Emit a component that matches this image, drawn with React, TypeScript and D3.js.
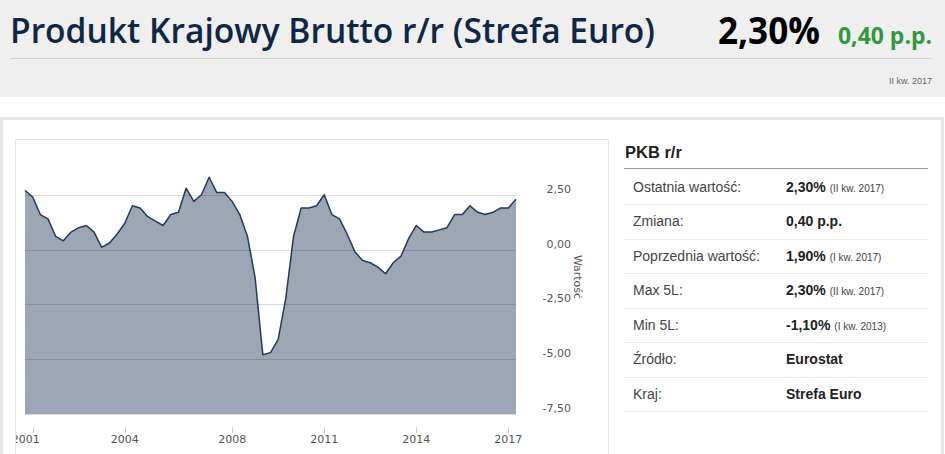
import React from 'react';
import * as d3 from 'd3';

// Quarterly GDP y/y (Euro area), II kw. 2001 .. II kw. 2017
const gdpValues: number[] = [
  2.7, 2.4, 1.6, 1.4, 0.6, 0.4, 0.8, 1.0, 1.1, 0.8,
  0.1, 0.3, 0.7, 1.2, 2.0, 1.9, 1.5, 1.3, 1.1, 1.6,
  1.7, 2.8, 2.2, 2.5, 3.3, 2.6, 2.6, 2.2, 1.6, 0.6,
  -1.3, -4.8, -4.7, -4.1, -2.2, 0.6, 1.9, 1.9, 2.0, 2.5,
  1.6, 1.4, 0.7, -0.1, -0.5, -0.6, -0.8, -1.1, -0.6, -0.3,
  0.5, 1.1, 0.8, 0.8, 0.9, 1.0, 1.6, 1.6, 2.0, 1.7,
  1.6, 1.7, 1.9, 1.9, 2.3,
];

const xTickIndex: number[] = [1, 13, 27, 39, 51, 63];
const xTickLabels: string[] = ['2001', '2004', '2008', '2011', '2014', '2017'];
const yTicks: number[] = [2.5, 0, -2.5, -5, -7.5];
const yDomain: [number, number] = [-7.5, 5];

const titleText = 'Produkt Krajowy Brutto r/r (Strefa Euro)';
const headlineValue = '2,30%';
const headlineChange = '0,40 p.p.';
const headlinePeriod = 'II kw. 2017';
const axisTitle = 'Wartość';

const tableTitle = 'PKB r/r';
const tableLabels: string[] = ['Ostatnia wartość:', 'Zmiana:', 'Poprzednia wartość:', 'Max 5L:', 'Min 5L:', 'Źródło:', 'Kraj:'];
const tableValues: string[] = ['2,30%', '0,40 p.p.', '1,90%', '2,30%', '-1,10%', 'Eurostat', 'Strefa Euro'];
const tableNotes: string[] = ['(II kw. 2017)', '', '(I kw. 2017)', '(II kw. 2017)', '(I kw. 2013)', '', ''];

const fmt = (v: number) => v.toFixed(2).replace('.', ',');

export default function App() {
  const x = d3.scaleLinear().domain([0, gdpValues.length - 1]).range([25, 516]);
  const y = d3.scaleLinear().domain(yDomain).range([414, 140]);

  const area = d3
    .area<number>()
    .x((_, i) => x(i))
    .y0(y(yDomain[0]))
    .y1((d) => y(d));
  const line = d3
    .line<number>()
    .x((_, i) => x(i))
    .y((d) => y(d));

  const axisFont = '"DejaVu Sans", Verdana, sans-serif';
  const tableFont = '"Liberation Sans", Arial, sans-serif';
  const headFont = '"Open Sans", "Noto Sans", sans-serif';

  return (
    <div style={{ position: 'absolute', left: 0, top: 0, width: 945, height: 454, background: '#fff' }}>
      <svg width={945} height={454} style={{ display: 'block' }}>
        <defs>
          <clipPath id="panelClip">
            <rect x={16} y={0} width={592} height={454} />
          </clipPath>
        </defs>
        {/* header */}
        <rect x={0} y={0} width={945} height={97} fill="#efefef" />
        <text x={10} y={43} fontFamily={headFont} fontSize={35} fontWeight={600} fill="#0f2746"
          textLength={645} lengthAdjust="spacingAndGlyphs">{titleText}</text>
        <text x={718} y={44} fontFamily={headFont} fontSize={37} fontWeight={700} fill="#000"
          textLength={102} lengthAdjust="spacingAndGlyphs">{headlineValue}</text>
        <text x={838} y={44} fontFamily={headFont} fontSize={23} fontWeight={700} fill="#2f9a3c"
          textLength={94} lengthAdjust="spacingAndGlyphs">{headlineChange}</text>
        <line x1={10} x2={932} y1={58.5} y2={58.5} stroke="#d2d2d2" />
        <text x={932} y={84} textAnchor="end" fontFamily={tableFont} fontSize={9} fill="#666">{headlinePeriod}</text>

        {/* outer panel */}
        <rect x={1.5} y={118.5} width={941} height={345} fill="#fff" stroke="#e6e6e6" strokeWidth={3} />
        {/* chart frame */}
        <rect x={15.5} y={139.5} width={593} height={330} fill="none" stroke="#e8e8e8" />

        {/* area + line */}
        <path d={area(gdpValues) || ''} fill="#9ca6b5" />
        <path d={line(gdpValues) || ''} fill="none" stroke="#26395a" strokeWidth={1.5} strokeLinejoin="round" />

        {/* gridlines on top */}
        {yTicks.map((t) => (
          <line key={t} x1={x(0)} x2={x(gdpValues.length - 1)} y1={Math.round(y(t)) + 0.5} y2={Math.round(y(t)) + 0.5}
            stroke={t === yDomain[0] ? '#dcdcdc' : '#000'} strokeOpacity={t === yDomain[0] ? 1 : 0.14} />
        ))}

        {/* y labels */}
        {yTicks.map((t) => (
          <text key={'yl' + t} x={571} y={y(t) - 2} textAnchor="end" fontFamily={axisFont} fontSize={11} fill="#555">{fmt(t)}</text>
        ))}
        <text transform={`translate(574,277) rotate(90)`} textAnchor="middle" fontFamily={axisFont} fontSize={11} fill="#555">{axisTitle}</text>

        {/* x axis */}
        <g clipPath="url(#panelClip)">
          {xTickIndex.map((t, i) => (
            <g key={'xt' + t}>
              <line x1={Math.round(x(t)) + 0.5} x2={Math.round(x(t)) + 0.5} y1={427} y2={433} stroke="#ccc" />
              <text x={x(t) - (i === 0 ? 7 : 0)} y={443} textAnchor="middle" fontFamily={axisFont} fontSize={11} fill="#555">{xTickLabels[i]}</text>
            </g>
          ))}
        </g>

        {/* table */}
        <text x={625} y={158} fontFamily={tableFont} fontSize={16.5} fontWeight={700} fill="#222">{tableTitle}</text>
        <line x1={624} x2={928} y1={168.5} y2={168.5} stroke="#999" />
        {tableLabels.map((lab, i) => {
          const cy = 186.7 + i * 34.5;
          return (
            <g key={lab}>
              <text x={633} y={cy + 5} fontFamily={tableFont} fontSize={14} fill="#444">{lab}</text>
              <text x={786} y={cy + 5} fontFamily={tableFont} fontSize={14} fontWeight={700} fill="#222">
                {tableValues[i]}
                {tableNotes[i] ? (
                  <tspan fontSize={10} fontWeight={400} fill="#444" dx={4}>{tableNotes[i]}</tspan>
                ) : null}
              </text>
              <line x1={624} x2={928} y1={Math.round(cy + 17.3) + 0.5} y2={Math.round(cy + 17.3) + 0.5} stroke="#ececec" />
            </g>
          );
        })}
      </svg>
    </div>
  );
}
